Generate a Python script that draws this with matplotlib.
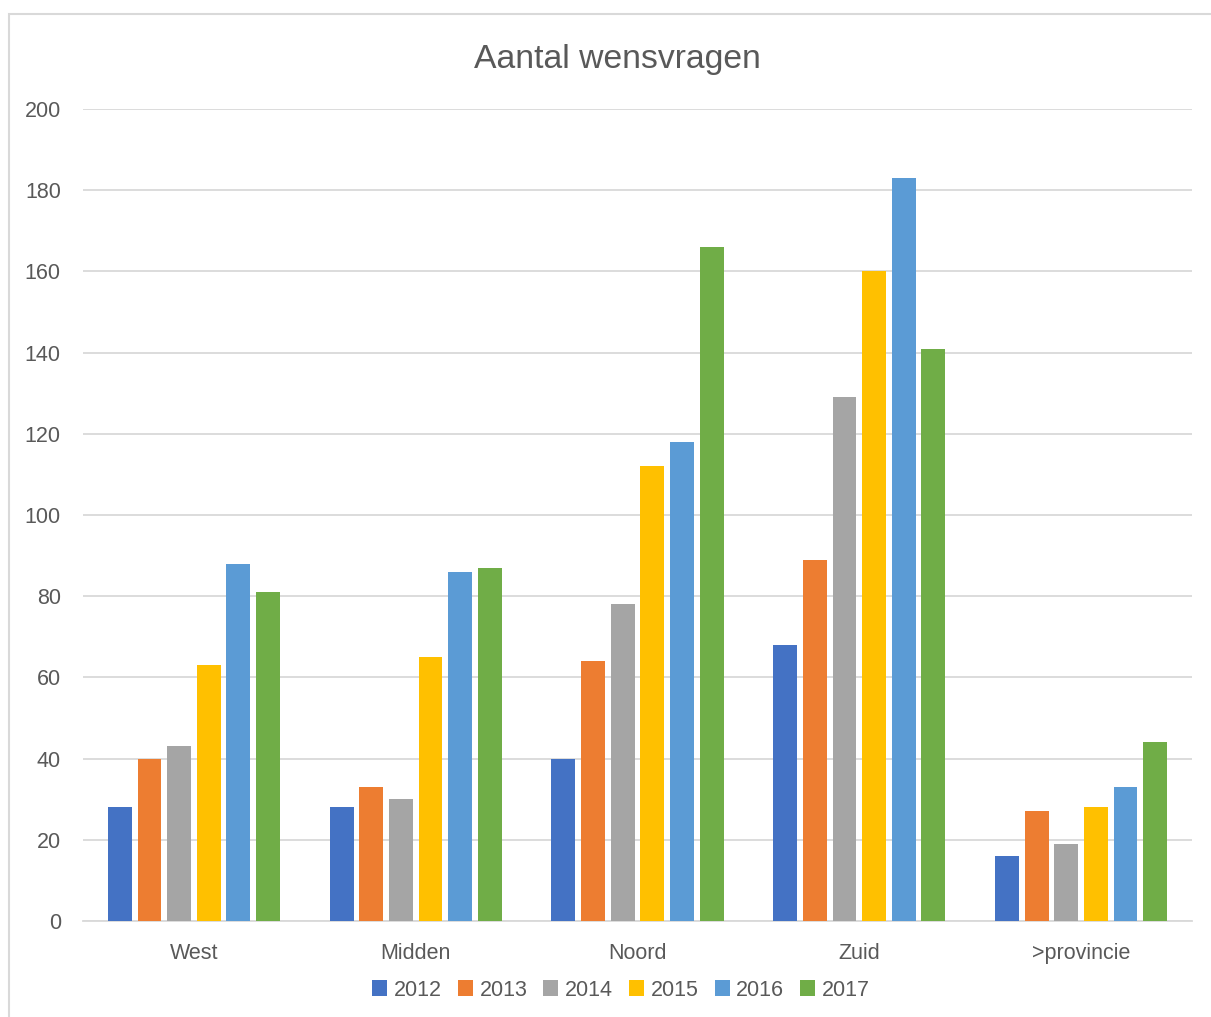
import numpy as np
import matplotlib.pyplot as plt
from matplotlib.patches import Rectangle

# Data
regions = ["West", "Midden", "Noord", "Zuid", ">provincie"]
years = ["2012", "2013", "2014", "2015", "2016", "2017"]
v2012 = [28, 28, 40, 68, 16]
v2013 = [40, 33, 64, 89, 27]
v2014 = [43, 30, 78, 129, 19]
v2015 = [63, 65, 112, 160, 28]
v2016 = [88, 86, 118, 183, 33]
v2017 = [81, 87, 166, 141, 44]
series = [v2012, v2013, v2014, v2015, v2016, v2017]
colors = ["#4472C4", "#ED7D31", "#A5A5A5", "#FFC000", "#5B9BD5", "#70AD47"]

txt = "#595959"
plt.rcParams['font.family'] = ['Liberation Sans', 'DejaVu Sans']

fig = plt.figure(figsize=(12.11, 10.17), dpi=100)
W, H = 1211, 1017
# chart frame (partly outside the image, like the reference)
fig.patches.append(Rectangle((9 / W, -0.05), 1.1, 1 - 14 / H + 0.05,
                             transform=fig.transFigure, fill=False,
                             edgecolor="#D9D9D9", lw=1.5))

ax = fig.add_axes([83 / W, 1 - 921 / H, (1192 - 83) / W, (921 - 109) / H])

x = np.arange(len(regions))
pitch = 0.1335
width = 0.108
for i, (vals, c) in enumerate(zip(series, colors)):
    ax.bar(x + (i - 2.5) * pitch, vals, width, color=c, label=years[i], zorder=3)

ax.set_xlim(-0.5, len(regions) - 0.5)
ax.set_ylim(0, 200)
ax.set_yticks(range(0, 201, 20))
ax.yaxis.grid(True, color="#D9D9D9", lw=1.3)
ax.set_axisbelow(True)
for s in ["top", "right", "left"]:
    ax.spines[s].set_visible(False)
ax.spines["bottom"].set_color("#D9D9D9")
ax.spines["bottom"].set_linewidth(1.3)
ax.set_xticks(x)
ax.set_xticklabels(regions)
ax.tick_params(axis="both", length=0, labelsize=15.5, colors=txt)
ax.tick_params(axis="y", pad=16)
ax.tick_params(axis="x", pad=16)

fig.text(617 / W, 1 - 60 / H, "Aantal wensvragen", ha="center", va="center",
         fontsize=24.3, color=txt)

leg = fig.legend(loc="center", bbox_to_anchor=(621 / W, 1 - 990 / H), ncol=6,
                 frameon=False, fontsize=15.5, handlelength=0.7, handleheight=0.7,
                 handletextpad=0.3, columnspacing=0.75, labelcolor=txt)

fig.savefig("out.png", dpi=100)
